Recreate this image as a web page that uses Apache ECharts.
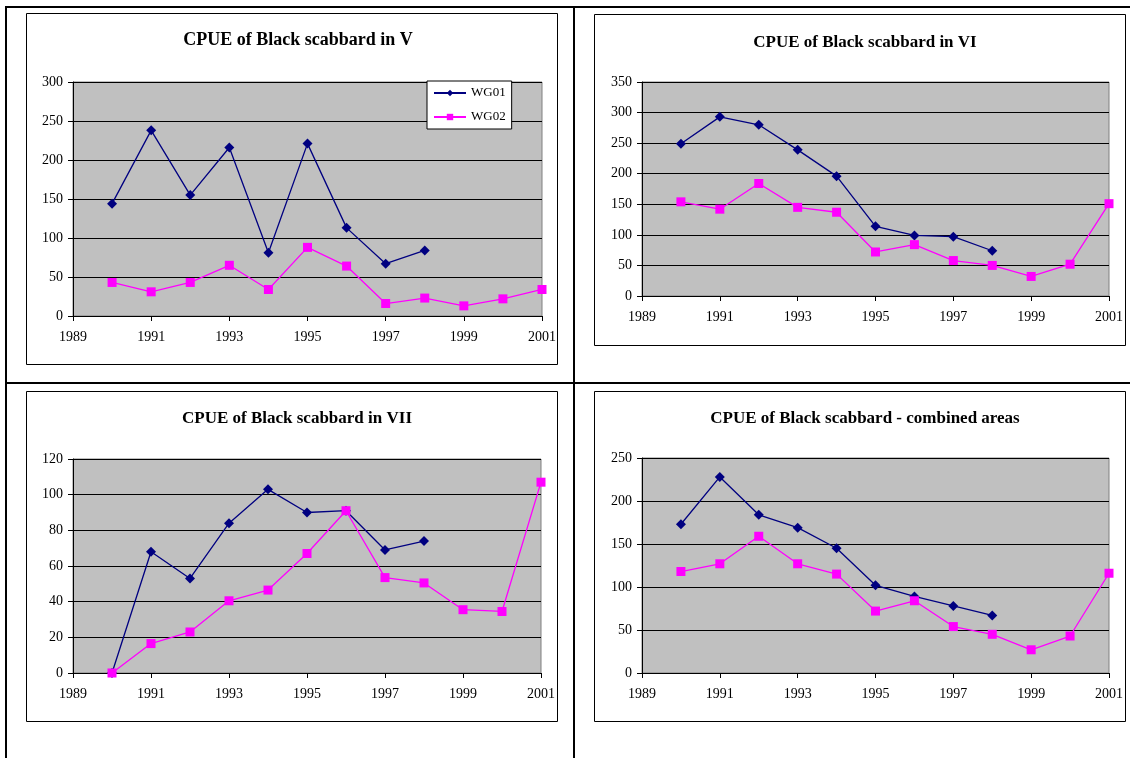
<!DOCTYPE html>
<html>
<head>
<meta charset="utf-8">
<script src="https://cdn.jsdelivr.net/npm/echarts@6/dist/echarts.min.js"></script>
<style>
  html, body { margin: 0; padding: 0; background: #fff; }
  #main { width: 1130px; height: 758px; }
</style>
</head>
<body>
<div id="main"></div>
<script>
// years and values
var years = [1990, 1991, 1992, 1993, 1994, 1995, 1996, 1997, 1998, 1999, 2000, 2001];
var xTicks = [1989, 1991, 1993, 1995, 1997, 1999, 2001];

var vWG01 = [144, 238, 155, 216, 81, 221, 113, 67, 84];
var vWG02 = [43, 31, 43, 65, 34, 88, 64, 16, 23, 13, 22, 34];

var viWG01 = [249, 293, 280, 239, 196, 114, 99, 97, 74];
var viWG02 = [154, 142, 184, 145, 137, 72, 84, 58, 50, 32, 52, 151];

var viiWG01 = [0, 68, 53, 84, 103, 90, 91, 69, 74];
var viiWG02 = [0, 16.5, 23, 40.5, 46.5, 67, 91, 53.5, 50.5, 35.5, 34.5, 107];

var combWG01 = [173, 228, 184, 169, 145, 102, 89, 78, 67];
var combWG02 = [118, 127, 159, 127, 115, 72, 84, 54, 45, 27, 43, 116];

var titles = [
  'CPUE of Black scabbard in V',
  'CPUE of Black scabbard in VI',
  'CPUE of Black scabbard in VII',
  'CPUE of Black scabbard - combined areas'
];
var yMax = [300, 350, 120, 250];
var yStep = [50, 50, 20, 50];

var FONT = '"Liberation Serif", "Times New Roman", serif';

function pairs(vals) {
  return vals.map(function (v, i) { return [years[i], v]; });
}

var panels = [
  { wg01: vWG01, wg02: vWG02, grid: { left: 73, top: 82, width: 469, height: 234 }, title: [293, 25, 18] },
  { wg01: viWG01, wg02: viWG02, grid: { left: 642, top: 82, width: 467, height: 214 }, title: [860, 28, 17] },
  { wg01: viiWG01, wg02: viiWG02, grid: { left: 73, top: 459, width: 468, height: 214 }, title: [292, 404, 17] },
  { wg01: combWG01, wg02: combWG02, grid: { left: 642, top: 458, width: 467, height: 215 }, title: [860, 404, 17] }
];

var myChart = echarts.init(document.getElementById('main'), null, { renderer: 'canvas' });

var grids = [], xAxes = [], yAxes = [], series = [], titleOpts = [];

panels.forEach(function (p, i) {
  grids.push({
    left: p.grid.left, top: p.grid.top, width: p.grid.width, height: p.grid.height,
    show: true, backgroundColor: '#C0C0C0', borderColor: '#808080', borderWidth: 1
  });
  titleOpts.push({
    text: titles[i],
    left: p.title[0], top: p.title[1],
    textAlign: 'center',
    textStyle: { fontFamily: FONT, fontSize: p.title[2], fontWeight: 'bold', color: '#000', lineHeight: 20 }
  });
  xAxes.push({
    type: 'value', gridIndex: i,
    min: xTicks[0], max: xTicks[xTicks.length - 1], interval: 2,
    axisLine: { show: true, onZero: false, lineStyle: { color: '#000', width: 1 } },
    axisTick: { show: true, inside: false, length: 5, lineStyle: { color: '#000' } },
    axisLabel: {
      margin: 14, color: '#000', fontFamily: FONT, fontSize: 14,
      formatter: function (v) { return String(v); }
    },
    splitLine: { show: false }
  });
  yAxes.push({
    type: 'value', gridIndex: i,
    min: 0, max: yMax[i], interval: yStep[i],
    axisLine: { show: true, lineStyle: { color: '#000', width: 1 } },
    axisTick: { show: true, inside: false, length: 5, lineStyle: { color: '#000' } },
    axisLabel: { margin: 10, color: '#000', fontFamily: FONT, fontSize: 14 },
    splitLine: { show: true, lineStyle: { color: '#000', width: 1 } }
  });
  series.push({
    name: 'WG01', type: 'line', xAxisIndex: i, yAxisIndex: i,
    data: pairs(p.wg01),
    symbol: 'diamond', symbolSize: 10, clip: false,
    lineStyle: { color: '#000080', width: 1.3 },
    itemStyle: { color: '#000080' }
  });
  series.push({
    name: 'WG02', type: 'line', xAxisIndex: i, yAxisIndex: i,
    data: pairs(p.wg02),
    symbol: 'rect', symbolSize: 9, clip: false,
    lineStyle: { color: '#FF00FF', width: 1.3 },
    itemStyle: { color: '#FF00FF' }
  });
});

// table rules and chart frames
var decor = [
  { type: 'rect', shape: { x: 5, y: 6, width: 2, height: 752 }, style: { fill: '#000' } },
  { type: 'rect', shape: { x: 5, y: 6, width: 1125, height: 2 }, style: { fill: '#000' } },
  { type: 'rect', shape: { x: 573, y: 6, width: 2, height: 752 }, style: { fill: '#000' } },
  { type: 'rect', shape: { x: 5, y: 382, width: 1125, height: 2 }, style: { fill: '#000' } },
  { type: 'rect', shape: { x: 26.5, y: 13.5, width: 531, height: 351 }, style: { fill: null, stroke: '#000', lineWidth: 1 } },
  { type: 'rect', shape: { x: 594.5, y: 14.5, width: 531, height: 331 }, style: { fill: null, stroke: '#000', lineWidth: 1 } },
  { type: 'rect', shape: { x: 26.5, y: 391.5, width: 531, height: 330 }, style: { fill: null, stroke: '#000', lineWidth: 1 } },
  { type: 'rect', shape: { x: 594.5, y: 391.5, width: 531, height: 330 }, style: { fill: null, stroke: '#000', lineWidth: 1 } }
];

var option = {
  animation: false,
  backgroundColor: '#fff',
  title: titleOpts,
  legend: {
    data: ['WG01', 'WG02'],
    orient: 'vertical',
    left: 427, top: 81,
    padding: [5, 6, 5, 6],
    itemGap: 10,
    itemWidth: 32, itemHeight: 8,
    backgroundColor: '#fff',
    borderColor: '#000', borderWidth: 1, borderRadius: 0,
    textStyle: { fontFamily: FONT, fontSize: 13, color: '#000', lineHeight: 14 }
  },
  grid: grids,
  xAxis: xAxes,
  yAxis: yAxes,
  series: series,
  graphic: { elements: decor }
};

myChart.setOption(option);

window.addEventListener('resize', function () {
  myChart.resize();
});
</script>
</body>
</html>
